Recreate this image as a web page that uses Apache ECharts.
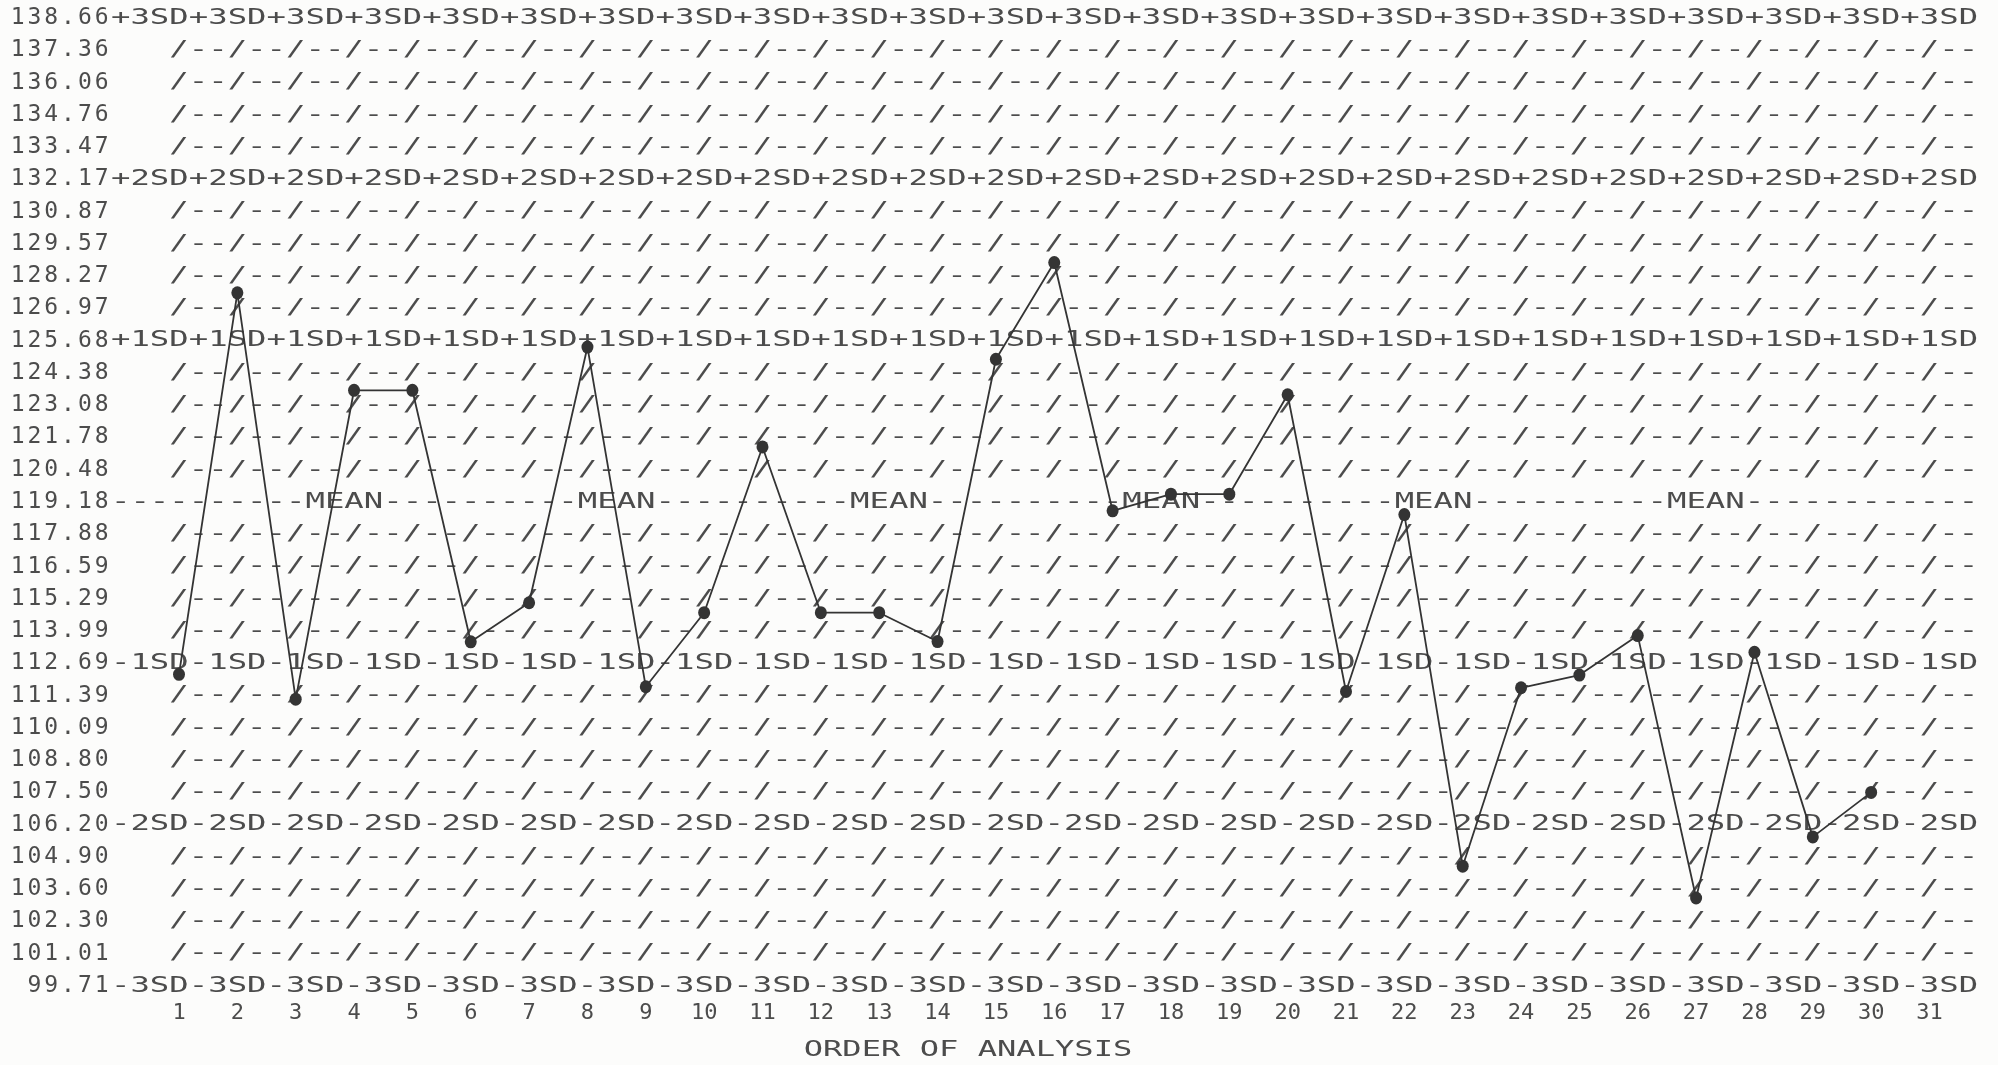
<!DOCTYPE html>
<html>
<head>
<meta charset="utf-8">
<title>Order of analysis</title>
<script src="https://cdn.jsdelivr.net/npm/echarts@6/dist/echarts.min.js"></script>
<style>
  html, body { margin: 0; padding: 0; background: #fcfcfb; }
  #chart { width: 1998px; height: 1065px; }
</style>
</head>
<body>
<div id="chart"></div>
<script>
// x categories
const orderOfAnalysis = ['1', '2', '3', '4', '5', '6', '7', '8', '9', '10', '11', '12', '13', '14', '15', '16',
  '17', '18', '19', '20', '21', '22', '23', '24', '25', '26', '27', '28', '29', '30', '31'];

// y tick labels, top row first
const tickLabels = ['138.66', '137.36', '136.06', '134.76', '133.47', '132.17', '130.87', '129.57', '128.27',
  '126.97', '125.68', '124.38', '123.08', '121.78', '120.48', '119.18', '117.88', '116.59', '115.29', '113.99',
  '112.69', '111.39', '110.09', '108.80', '107.50', '106.20', '104.90', '103.60', '102.30', '101.01', '99.71'];

// what the printer wrote after each tick label ('' = plain /-- row)
const rowMarks = ['+3SD', '', '', '', '', '+2SD', '', '', '', '', '+1SD', '', '', '', '', 'MEAN',
  '', '', '', '', '-1SD', '', '', '', '', '-2SD', '', '', '', '', '-3SD'];

// plotted results (analysis 31 has no point)
const results = [112.25, 127.6, 111.25, 123.68, 123.68, 113.56, 115.13, 125.42, 111.75, 114.73,
  121.4, 114.73, 114.73, 113.57, 124.93, 128.82, 118.83, 119.5, 119.5, 123.5,
  111.56, 118.68, 104.53, 111.71, 112.22, 113.81, 103.25, 113.14, 105.71, 107.5];

const FONT = 'DejaVu Sans Mono';
const INK = '#4c4c4c';
const ROW_FONT_SIZE = 22;
const ROW_CELLS = 96;

// monospace advance, used to stretch each printed row onto the column pitch
const measureCtx = document.createElement('canvas').getContext('2d');
measureCtx.font = ROW_FONT_SIZE + 'px "' + FONT + '"';
const charAdvance = measureCtx.measureText('-'.repeat(ROW_CELLS)).width / ROW_CELLS;

// one printer line, starting 3 cells left of column 1
function rowText(mark) {
  if (mark === 'MEAN') {
    let s = '-'.repeat(ROW_CELLS).split('');
    for (let k = 0; k < 6; k++) {
      s.splice(10 + 14 * k, 4, 'M', 'E', 'A', 'N');
    }
    return s.join('');
  }
  if (mark === '') {
    return '   ' + '/--'.repeat(31);
  }
  return mark.repeat(ROW_CELLS / 4);
}

function renderRow(params, api) {
  let v = api.value(1);
  let p0 = api.coord([0, v]);
  let p1 = api.coord([1, v]);
  let cell = (p1[0] - p0[0]) / 3;
  return {
    type: 'text',
    x: p0[0] - 3.5 * cell,
    y: p0[1],
    scaleX: cell / charAdvance,
    style: {
      text: rowText(rowMarks[api.value(2)]),
      fontFamily: FONT,
      fontSize: ROW_FONT_SIZE,
      fill: INK,
      align: 'left',
      verticalAlign: 'middle'
    }
  };
}

let chart = echarts.init(document.getElementById('chart'));
chart.setOption({
  animation: false,
  backgroundColor: '#fcfcfb',
  grid: { left: 179, right: 68.5, top: 18, bottom: 79 },
  xAxis: {
    type: 'category',
    data: orderOfAnalysis,
    boundaryGap: false,
    axisLine: { show: false },
    axisTick: { show: false },
    splitLine: { show: false },
    axisLabel: {
      interval: 0,
      margin: 16,
      fontFamily: FONT,
      fontSize: 22,
      color: INK
    }
  },
  yAxis: [
    {
      // value scale for rows and points
      type: 'value',
      min: 99.71,
      max: 138.66,
      show: false
    },
    {
      // printed tick labels
      type: 'category',
      data: tickLabels.slice().reverse(),
      boundaryGap: false,
      position: 'left',
      axisLine: { show: false },
      axisTick: { show: false },
      splitLine: { show: false },
      axisLabel: {
        interval: 0,
        margin: 69,
        formatter: function (val) {
          return val.split('').map(ch => '{d|' + ch + '}').join('');
        },
        rich: {
          d: { width: 16.8, align: 'center', fontFamily: FONT, fontSize: 23, color: INK }
        }
      }
    }
  ],
  graphic: [
    {
      type: 'text',
      x: 968,
      y: 1050,
      scaleX: 1.46,
      style: {
        text: 'ORDER OF ANALYSIS',
        fontFamily: FONT,
        fontSize: 22,
        fill: INK,
        align: 'center',
        verticalAlign: 'middle'
      }
    }
  ],
  series: [
    {
      type: 'custom',
      name: 'rows',
      xAxisIndex: 0,
      yAxisIndex: 0,
      renderItem: renderRow,
      encode: { x: 0, y: 1 },
      data: tickLabels.map((t, i) => [0, parseFloat(t), i]),
      silent: true,
      z: 1
    },
    {
      type: 'line',
      name: 'result',
      xAxisIndex: 0,
      yAxisIndex: 0,
      data: results,
      symbol: 'circle',
      symbolSize: [12, 13],
      lineStyle: { color: '#343434', width: 1.8 },
      itemStyle: { color: '#343434' },
      z: 5
    }
  ]
});
</script>
</body>
</html>
